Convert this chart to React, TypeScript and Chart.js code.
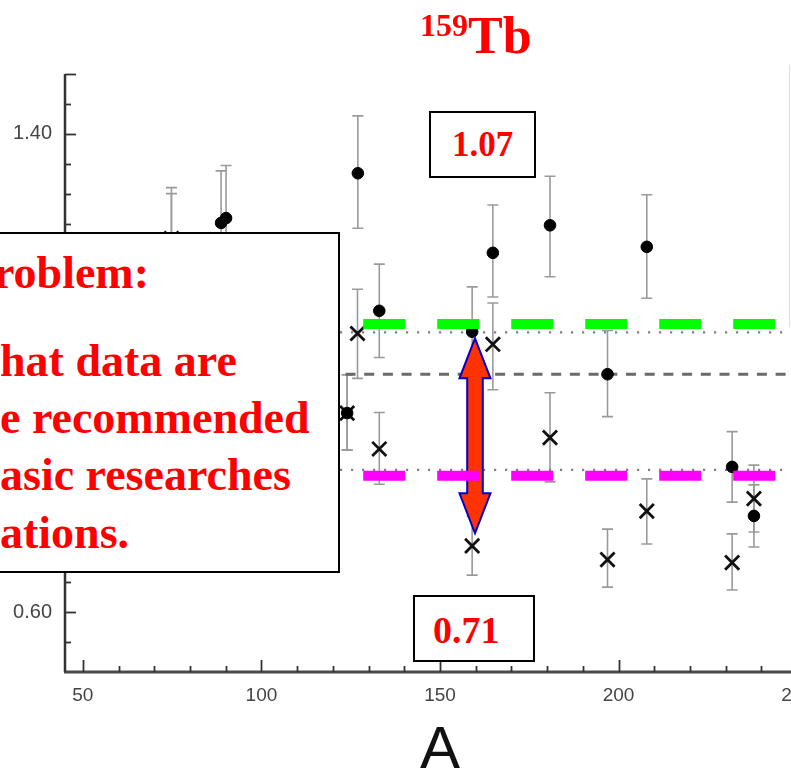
import React, { useEffect, useRef } from "react";
import { Chart, registerables } from "chart.js";

Chart.register(...registerables);

// ---------- data ----------
const X_MIN = 45;
const X_MAX = 255;
const Y_MIN = 0.5;
const Y_MAX = 1.5;
const X_TICKS = [50, 100, 150, 200, 250];
const Y_TICKS = [0.6, 0.8, 1.0, 1.2, 1.4];

// filled circles (A, value, error low, error high)
const CIRCLE_A = [74.8, 88.7, 90.1, 124.0, 127.0, 133.0, 159.0, 164.8, 180.8, 196.9, 207.9, 231.8, 237.9];
const CIRCLE_V = [1.21, 1.251, 1.259, 0.933, 1.334, 1.104, 1.069, 1.201, 1.247, 0.998, 1.211, 0.843, 0.761];
const CIRCLE_LO = [1.12, 1.164, 1.171, 0.871, 1.242, 1.026, 0.994, 1.127, 1.161, 0.927, 1.125, 0.784, 0.709];
const CIRCLE_HI = [1.3, 1.338, 1.347, 0.997, 1.43, 1.182, 1.144, 1.281, 1.329, 1.071, 1.298, 0.902, 0.813];

// crosses
const CROSS_A = [74.8, 124.0, 126.9, 133.0, 159.0, 164.8, 180.8, 196.9, 207.9, 231.8, 237.9];
const CROSS_V = [1.225, 0.933, 1.066, 0.873, 0.711, 1.048, 0.892, 0.688, 0.769, 0.683, 0.79];
const CROSS_LO = [1.14, 0.871, 0.991, 0.814, 0.662, 0.972, 0.818, 0.642, 0.714, 0.637, 0.734];
const CROSS_HI = [1.31, 0.997, 1.14, 0.934, 0.76, 1.117, 0.967, 0.739, 0.823, 0.731, 0.846];

// reference levels
const UPPER_DOTTED = 1.068;
const MID_DASHED = 0.998;
const LOWER_DOTTED = 0.838;
const GREEN_LEVEL = 1.082;
const MAGENTA_LEVEL = 0.828;
const BAR_START_A = 128.5;

// arrow between levels
const ARROW_A = 159.8;
const ARROW_TOP = 1.058;
const ARROW_BOTTOM = 0.732;

const TITLE_SUP = "159";
const TITLE_MAIN = "Tb";
const X_TITLE = "A";
const UPPER_LABEL = "1.07";
const LOWER_LABEL = "0.71";
const PROBLEM_LINES = ["roblem:", "hat data are", "e recommended", "asic researches", "ations."];

// ---------- styling ----------
const SANS = '"Liberation Sans", Arial, sans-serif';
const SERIF = '"Liberation Serif", "Times New Roman", serif';

const errorBarPlugin = {
  id: "errorBars",
  beforeDatasetsDraw(chart: any) {
    const ctx = chart.ctx;
    const xs = chart.scales.x;
    const ys = chart.scales.y;
    ctx.save();
    ctx.strokeStyle = "#9a9a9a";
    ctx.lineWidth = 1.6;
    chart.data.datasets.forEach((ds: any) => {
      if (!ds.errLo) return;
      ds.data.forEach((p: any, i: number) => {
        const x = xs.getPixelForValue(p.x);
        const y1 = ys.getPixelForValue(ds.errLo[i]);
        const y2 = ys.getPixelForValue(ds.errHi[i]);
        ctx.beginPath();
        ctx.moveTo(x, y1);
        ctx.lineTo(x, y2);
        ctx.moveTo(x - 5.5, y1);
        ctx.lineTo(x + 5.5, y1);
        ctx.moveTo(x - 5.5, y2);
        ctx.lineTo(x + 5.5, y2);
        ctx.stroke();
      });
    });
    ctx.restore();
  },
};

const arrowPlugin = {
  id: "arrow",
  afterDatasetDraw(chart: any, args: any) {
    if (chart.data.datasets[args.index].label !== "circles") return;
    const ctx = chart.ctx;
    const xs = chart.scales.x;
    const ys = chart.scales.y;
    const x = xs.getPixelForValue(ARROW_A);
    const yt = ys.getPixelForValue(ARROW_TOP);
    const yb = ys.getPixelForValue(ARROW_BOTTOM);
    const hw = 15.5, sw = 7.8, hl = 40;
    ctx.save();
    ctx.beginPath();
    ctx.moveTo(x, yt);
    ctx.lineTo(x + hw, yt + hl);
    ctx.lineTo(x + sw, yt + hl);
    ctx.lineTo(x + sw, yb - hl);
    ctx.lineTo(x + hw, yb - hl);
    ctx.lineTo(x, yb);
    ctx.lineTo(x - hw, yb - hl);
    ctx.lineTo(x - sw, yb - hl);
    ctx.lineTo(x - sw, yt + hl);
    ctx.lineTo(x - hw, yt + hl);
    ctx.closePath();
    ctx.fillStyle = "#ff3300";
    ctx.fill();
    ctx.lineWidth = 2;
    ctx.strokeStyle = "#0000cc";
    ctx.lineJoin = "miter";
    ctx.stroke();
    ctx.restore();
  },
};

const axesPlugin = {
  id: "axesDraw",
  afterDraw(chart: any) {
    const ctx = chart.ctx;
    const xs = chart.scales.x;
    const ys = chart.scales.y;
    const area = chart.chartArea;
    ctx.save();
    // x axis line
    ctx.strokeStyle = "#4a4a4a";
    ctx.lineWidth = 3;
    ctx.beginPath();
    ctx.moveTo(area.left - 1, area.bottom);
    ctx.lineTo(area.right, area.bottom);
    ctx.stroke();
    // y axis line
    ctx.strokeStyle = "#333";
    ctx.lineWidth = 2.5;
    ctx.beginPath();
    ctx.moveTo(area.left, area.bottom);
    ctx.lineTo(area.left, ys.getPixelForValue(Y_MAX));
    ctx.stroke();
    // y ticks (inward)
    ctx.lineWidth = 1.8;
    for (let k = 1; k <= 20; k++) {
      const v = Y_MIN + k * 0.05;
      const y = Math.round(ys.getPixelForValue(v)) + 0.5;
      const major = Y_TICKS.some((t) => Math.abs(t - v) < 1e-6) || k === 20;
      ctx.beginPath();
      ctx.moveTo(area.left, y);
      ctx.lineTo(area.left + (major ? 11 : 6), y);
      ctx.stroke();
    }
    // x ticks (inward)
    ctx.strokeStyle = "#333";
    for (let a = 50; a <= X_MAX; a += 10) {
      const x = Math.round(xs.getPixelForValue(a)) + 0.5;
      const major = X_TICKS.includes(a);
      ctx.beginPath();
      ctx.moveTo(x, area.bottom);
      ctx.lineTo(x, area.bottom - (major ? 12 : 6));
      ctx.stroke();
    }
    ctx.restore();
  },
};

function levelLine(label: string, v: number, start: number, color: string, width: number, dash: number[]) {
  return {
    label,
    type: "scatter" as const,
    data: [
      { x: start, y: v },
      { x: X_MAX + 10, y: v },
    ],
    showLine: true,
    borderColor: color,
    backgroundColor: color,
    borderWidth: width,
    borderDash: dash,
    borderCapStyle: "butt",
    pointRadius: 0,
    fill: false,
  };
}

export default function App() {
  const ref = useRef<HTMLCanvasElement>(null);

  useEffect(() => {
    const circles = CIRCLE_A.map((a, i) => ({ x: a, y: CIRCLE_V[i] }));
    const crosses = CROSS_A.map((a, i) => ({ x: a, y: CROSS_V[i] }));
    const chart = new Chart(ref.current as HTMLCanvasElement, {
      type: "scatter",
      data: {
        datasets: [
          levelLine("green", GREEN_LEVEL, BAR_START_A, "#00ff00", 10, [42, 32]),
          levelLine("magenta", MAGENTA_LEVEL, BAR_START_A, "#ff00ff", 10, [42, 32]),
          {
            label: "circles",
            data: circles,
            errLo: CIRCLE_LO,
            errHi: CIRCLE_HI,
            pointStyle: "circle",
            pointRadius: 5.8,
            backgroundColor: "#000",
            borderColor: "#000",
            borderWidth: 1,
          } as any,
          {
            label: "crosses",
            data: crosses,
            errLo: CROSS_LO,
            errHi: CROSS_HI,
            pointStyle: "crossRot",
            pointRadius: 10,
            backgroundColor: "#111",
            borderColor: "#111",
            borderWidth: 2.8,
          } as any,
          levelLine("upper", UPPER_DOTTED, X_MIN, "#808080", 2.2, [2.2, 8.8]),
          levelLine("mid", MID_DASHED, X_MIN, "#6a6a6a", 3, [10, 8.7]),
          levelLine("lower", LOWER_DOTTED, X_MIN, "#808080", 2.2, [2.2, 8.8]),
        ] as any,
      },
      options: {
        animation: false,
        responsive: false,
        layout: { padding: { left: 0, top: 74, right: 35, bottom: 0 } },
        plugins: {
          legend: { display: false },
          tooltip: { enabled: false },
          title: { display: false },
        },
        scales: {
          x: {
            type: "linear",
            min: X_MIN,
            max: X_MAX,
            afterFit: (s: any) => {
              s.height = 103;
            },
            afterBuildTicks: (s: any) => {
              s.ticks = X_TICKS.map((v) => ({ value: v }));
            },
            grid: { display: false, drawTicks: false },
            border: { display: false },
            ticks: {
              padding: 12,
              color: "#444",
              font: { family: SANS, size: 19 },
              maxRotation: 0,
              autoSkip: false,
              callback: (v: any) => String(v),
            },
            title: {
              display: true,
              text: X_TITLE,
              color: "#111",
              font: { family: SANS, size: 60, lineHeight: 0.8 },
              padding: 0,
            },
          },
          y: {
            type: "linear",
            min: Y_MIN,
            max: Y_MAX,
            afterFit: (s: any) => {
              s.width = 65;
            },
            afterBuildTicks: (s: any) => {
              s.ticks = Y_TICKS.map((v) => ({ value: v }));
            },
            grid: { display: false, drawTicks: false },
            border: { display: false },
            ticks: {
              padding: 13,
              color: "#444",
              font: { family: SANS, size: 20 },
              autoSkip: false,
              callback: (v: any) => Number(v).toFixed(2),
            },
          },
        },
      } as any,
      plugins: [errorBarPlugin, arrowPlugin, axesPlugin],
    });
    return () => chart.destroy();
  }, []);

  const lineTops = [250, 338, 395, 452, 510];
  const lineLefts = [-6, 0, 0, 0, 0];

  return (
    <div
      style={{
        position: "fixed",
        left: 0,
        top: 0,
        width: 791,
        height: 775,
        overflow: "hidden",
        background: "#fff",
      }}
    >
      <canvas
        ref={ref}
        width={850}
        height={775}
        style={{ position: "absolute", left: 0, top: 0, width: 850, height: 775 }}
      />
      {/* title */}
      <div
        style={{
          position: "absolute",
          left: 420,
          top: 10,
          fontFamily: SERIF,
          fontWeight: "bold",
          color: "#ff0000",
          fontSize: 52,
          lineHeight: 1,
          whiteSpace: "nowrap",
        }}
      >
        <span style={{ fontSize: 32, position: "relative", top: -17 }}>{TITLE_SUP}</span>
        {TITLE_MAIN}
      </div>
      {/* faint right border */}
      <div style={{ position: "absolute", left: 789, top: 65, width: 1, height: 262, background: "#dcdcdc" }} />
      {/* 1.07 box */}
      <div
        style={{
          position: "absolute",
          left: 429,
          top: 111,
          width: 107,
          height: 67,
          boxSizing: "border-box",
          border: "2px solid #000",
          background: "#fff",
          display: "flex",
          alignItems: "center",
          justifyContent: "center",
          fontFamily: SERIF,
          fontWeight: "bold",
          fontSize: 35,
          color: "#ff0000",
          lineHeight: 1,
        }}
      >
        {UPPER_LABEL}
      </div>
      {/* 0.71 box */}
      <div
        style={{
          position: "absolute",
          left: 413,
          top: 595,
          width: 122,
          height: 67,
          boxSizing: "border-box",
          border: "2px solid #000",
          background: "#fff",
          display: "flex",
          alignItems: "center",
          paddingLeft: 18,
          paddingTop: 3,
          fontFamily: SERIF,
          fontWeight: "bold",
          fontSize: 38,
          color: "#ff0000",
          lineHeight: 1,
        }}
      >
        {LOWER_LABEL}
      </div>
      {/* problem box */}
      <div
        style={{
          position: "absolute",
          left: -10,
          top: 232,
          width: 350,
          height: 341,
          boxSizing: "border-box",
          border: "2px solid #000",
          background: "#fff",
        }}
      />
      {PROBLEM_LINES.map((t, i) => (
        <div
          key={i}
          style={{
            position: "absolute",
            left: lineLefts[i],
            top: lineTops[i],
            fontFamily: SERIF,
            fontWeight: "bold",
            fontSize: 46,
            lineHeight: 1,
            color: "#ff0000",
            whiteSpace: "nowrap",
          }}
        >
          {t}
        </div>
      ))}
    </div>
  );
}
